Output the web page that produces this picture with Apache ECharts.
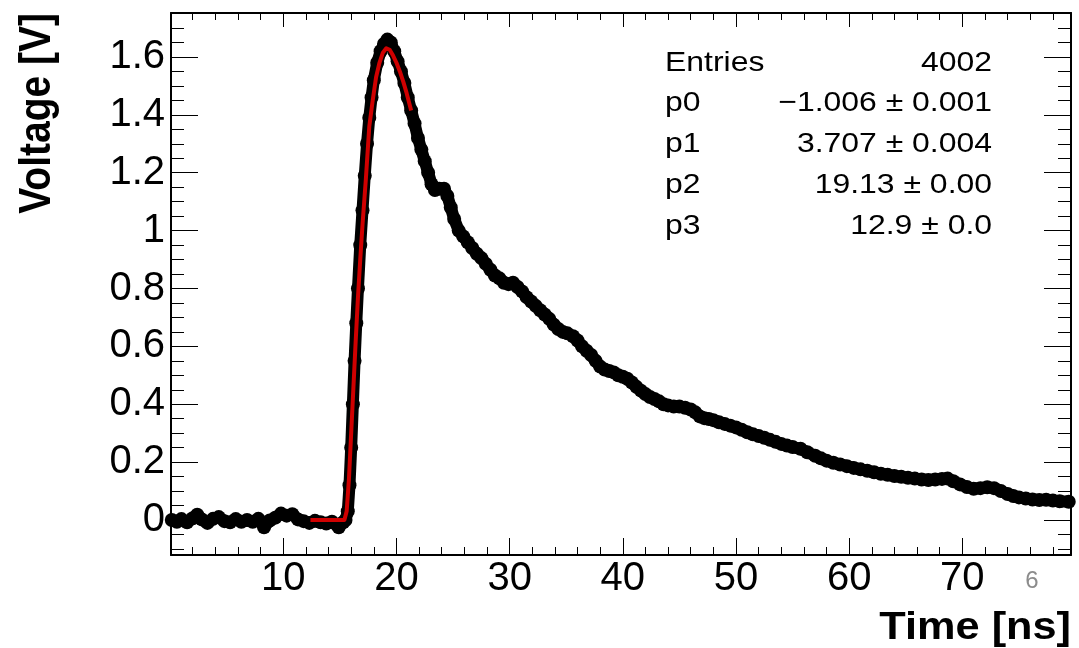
<!DOCTYPE html>
<html><head><meta charset="utf-8">
<script src="https://cdn.jsdelivr.net/npm/echarts@6/dist/echarts.min.js"></script>
<style>html,body{margin:0;padding:0;background:#fff}#c{width:1079px;height:648px}</style>
</head><body><div id="c"></div>
<script>
// ---- measured waveform (time in ns, voltage in V) ----
const dataTime = [
 0.15,0.6,1.0,1.5,2.0,2.4,2.8,3.3,3.8,4.3,4.8,5.3,5.8,6.3,6.8,7.3,7.8,8.3,8.8,9.3,9.8,10.3,10.8,11.3,11.8,12.3,12.8,13.3,13.8,14.3,14.9,15.3,
 15.5,15.7,15.85,16.0,16.15,16.3,16.45,16.6,16.8,17.0,17.2,17.4,17.6,17.8,18.0,18.3,18.6,18.9,19.2,19.5,19.8,20.1,20.4,20.7,21.0,21.3,21.6,21.9,22.2,22.5,22.8,23.1,23.4,23.8,24.2,24.5,24.8,25.1,25.5,25.9,26.3,26.7,27.1,27.5,27.9,28.3,28.7,29.1,29.5,29.9,30.3,30.7,31.1,31.5,31.9,32.3,32.7,33.1,33.5,33.9,34.3,34.7,35.1,35.6,36.0,36.4,36.8,37.2,37.6,38.0,38.4,38.8,39.2,39.6,40.0,40.4,40.8,41.2,41.6,42.0,42.4,42.8,43.2,43.6,44.0,44.5,45.0,45.5,46.0,46.4,46.8,47.2,47.6,48.0,48.5,49.0,49.5,50.0,50.5,51.0,51.5,52.0,52.5,53.0,53.5,54.0,54.5,55.0,55.7,56.3,57.0,57.5,58.0,58.6,59.2,59.8,60.4,61.0,61.6,62.2,62.8,63.4,64.0,64.6,65.2,65.8,66.4,67.0,67.6,68.2,68.7,69.2,69.8,70.4,71.0,71.6,72.2,72.8,73.4,74.0,74.5,75.0,75.6,76.2,76.8,77.4,78.0,78.6,79.4
];
const dataVolt = [
 0.000,-0.006,0.003,-0.008,0.006,0.018,0.002,-0.010,0.004,0.010,-0.004,-0.008,0.003,-0.006,0.000,-0.006,0.004,-0.025,-0.002,0.008,0.022,0.015,0.020,0.002,-0.004,-0.010,-0.003,-0.008,-0.012,-0.006,-0.025,-0.008,
 0.00,0.03,0.12,0.25,0.40,0.55,0.68,0.80,0.95,1.07,1.19,1.30,1.39,1.46,1.52,1.58,1.62,1.645,1.66,1.65,1.62,1.585,1.55,1.51,1.46,1.415,1.37,1.32,1.28,1.24,1.20,1.16,1.14,1.145,1.145,1.12,1.08,1.04,1.00,0.98,0.96,0.94,0.92,0.905,0.885,0.865,0.845,0.835,0.82,0.815,0.82,0.805,0.79,0.77,0.755,0.74,0.725,0.71,0.695,0.675,0.66,0.65,0.645,0.635,0.62,0.60,0.585,0.57,0.55,0.53,0.52,0.515,0.51,0.50,0.495,0.488,0.475,0.46,0.447,0.435,0.425,0.418,0.41,0.40,0.396,0.392,0.392,0.388,0.382,0.372,0.358,0.352,0.349,0.345,0.338,0.332,0.326,0.32,0.312,0.303,0.296,0.29,0.284,0.277,0.27,0.263,0.257,0.252,0.246,0.234,0.222,0.213,0.205,0.198,0.192,0.186,0.18,0.175,0.17,0.165,0.16,0.156,0.152,0.149,0.146,0.143,0.14,0.138,0.14,0.142,0.143,0.134,0.123,0.114,0.108,0.11,0.113,0.11,0.100,0.09,0.083,0.078,0.074,0.071,0.069,0.070,0.067,0.065,0.063
];
// ---- fit curve ----
const fitTime = [12.4,15.4,15.6,15.8,16.0,16.2,16.4,16.6,16.8,17.0,17.3,17.6,17.9,18.2,18.5,18.8,19.1,19.4,19.7,20.0,20.3,20.6,20.9,21.3];
const fitVolt = [0.0,0.0,0.03,0.14,0.30,0.46,0.62,0.77,0.90,1.02,1.18,1.36,1.45,1.53,1.58,1.615,1.63,1.625,1.605,1.58,1.55,1.515,1.475,1.415];
// ---- stats box ----
const statNames = ['Entries','p0','p1','p2','p3'];
const statValues = ['4002','\u22121.006 \u00b1 0.001','3.707 \u00b1 0.004','19.13 \u00b1 0.00','12.9 \u00b1 0.0'];
const xRange = [0.08, 79.6];
const yRange = [-0.121, 1.752];
const xTitle = 'Time [ns]';
const yTitle = 'Voltage [V]';

const FONT = "'Liberation Sans', Arial, Helvetica, sans-serif";
const chart = echarts.init(document.getElementById('c'), null, {renderer:'canvas'});

function mkX(pos, split, len, line, label) {
  return {type:'value', position:pos, min:xRange[0], max:xRange[1], splitNumber:split,
    axisLine:{show:line, onZero:false, lineStyle:{color:'#000', width:2}},
    axisTick:{show:true, inside:true, length:len, lineStyle:{color:'#000', width:1}},
    axisLabel:{show:label, fontFamily:FONT, fontSize:40, color:'#000', margin:4, showMinLabel:false, showMaxLabel:false},
    splitLine:{show:false}, minorTick:{show:false}};
}
function mkY(pos, split, len, line, label) {
  return {type:'value', position:pos, min:yRange[0], max:yRange[1], splitNumber:split,
    axisLine:{show:line, onZero:false, lineStyle:{color:'#000', width:2}},
    axisTick:{show:true, inside:true, length:len, lineStyle:{color:'#000', width:1}},
    axisLabel:{show:label, fontFamily:FONT, fontSize:40, color:'#000', margin:6, padding:[5,0,0,0], showMinLabel:false, showMaxLabel:false},
    splitLine:{show:false}, minorTick:{show:false}};
}

const graphics = [
  {type:'text', x:38, y:13, rotation:Math.PI/2, scaleY:1.14,
   style:{text:yTitle, font:"bold 39px "+FONT, fill:'#000', textAlign:'right', textVerticalAlign:'middle'}},
  {type:'text', x:1071, y:628, scaleX:1.11,
   style:{text:xTitle, font:"bold 39px "+FONT, fill:'#000', textAlign:'right', textVerticalAlign:'middle'}},
  {type:'text', x:1032, y:581,
   style:{text:'6', font:"24px "+FONT, fill:'#8c8c8c', textAlign:'center', textVerticalAlign:'middle'}}
];
const rowY = [63, 103, 144, 185, 226];
statNames.forEach((n,i)=>{
  graphics.push({type:'text', x:665, y:rowY[i], scaleX:1.14,
    style:{text:n, font:"28px "+FONT, fill:'#000', textAlign:'left', textVerticalAlign:'middle'}});
  graphics.push({type:'text', x:992, y:rowY[i], scaleX:1.14,
    style:{text:statValues[i], font:"28px "+FONT, fill:'#000', textAlign:'right', textVerticalAlign:'middle'}});
});

chart.setOption({
  animation:false,
  backgroundColor:'#fff',
  grid:{left:171, right:8, top:13, bottom:93, containLabel:false, outerBoundsMode:'none'},
  xAxis:[ mkX('bottom',8,17,true,true), mkX('bottom',40,8,false,false), mkX('top',8,14,true,false), mkX('top',40,7,false,false) ],
  yAxis:[ mkY('left',9,27,true,true), mkY('left',37,13,false,false), mkY('right',9,27,true,false), mkY('right',37,13,false,false) ],
  series:[
    {type:'line', xAxisIndex:0, yAxisIndex:0, clip:false, data:dataTime.map((t,i)=>[t,dataVolt[i]]),
     symbol:'circle', symbolSize:14, showSymbol:true, itemStyle:{color:'#000'},
     lineStyle:{color:'#000', width:12, join:'round', cap:'round'}, z:2},
    {type:'line', xAxisIndex:0, yAxisIndex:0, clip:false, data:fitTime.map((t,i)=>[t,fitVolt[i]]),
     symbol:'none', lineStyle:{color:'#d00000', width:4, join:'round', cap:'butt'}, z:3}
  ],
  graphic:graphics
});
</script></body></html>
